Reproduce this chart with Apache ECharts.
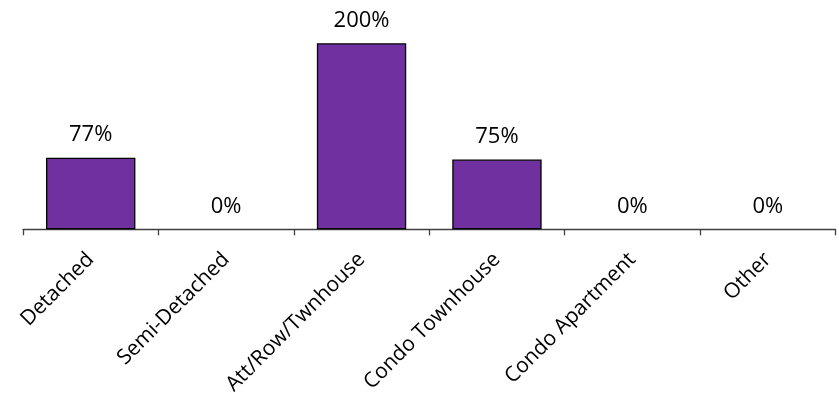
<!DOCTYPE html>
<html>
<head>
<meta charset="utf-8">
<script src="https://cdn.jsdelivr.net/npm/echarts@6/dist/echarts.min.js"></script>
<style>
html,body{margin:0;padding:0;background:#fff;}
#c{width:839px;height:400px;}
</style>
</head>
<body>
<div id="c"></div>
<script>
var categories = ["Detached", "Semi-Detached", "Att/Row/Twnhouse", "Condo Townhouse", "Condo Apartment", "Other"];
var values = [77, 0, 200, 75, 0, 0];

var seriesData = values.map(function (v) {
  return {value: v, itemStyle: {borderWidth: v === 0 ? 0 : 1.3}};
});

var chart = echarts.init(document.getElementById('c'), null, {renderer: 'canvas'});
chart.setOption({
  animation: false,
  grid: {left: 23, right: 3.5, top: 43.3, bottom: 170.7, containLabel: false},
  xAxis: {
    type: 'category',
    data: categories,
    axisLine: {show: true, lineStyle: {color: '#404040', width: 1.3}},
    axisTick: {show: true, alignWithLabel: false, length: 6, lineStyle: {color: '#404040', width: 1.3}},
    axisLabel: {rotate: 45, margin: 27, fontSize: 21, fontFamily: 'Open Sans', color: '#000', interval: 0}
  },
  yAxis: {
    type: 'value', min: 0, max: 200, show: false,
    splitLine: {show: false}
  },
  series: [{
    type: 'bar',
    data: seriesData,
    barCategoryGap: '34%',
    itemStyle: {color: '#7030A0', borderColor: '#000', borderWidth: 1.3},
    label: {
      show: true, position: 'top', distance: 12,
      formatter: function (p) { return p.value + '%'; },
      fontSize: 22, fontFamily: 'Open Sans', color: '#000'
    }
  }]
});
</script>
</body>
</html>
